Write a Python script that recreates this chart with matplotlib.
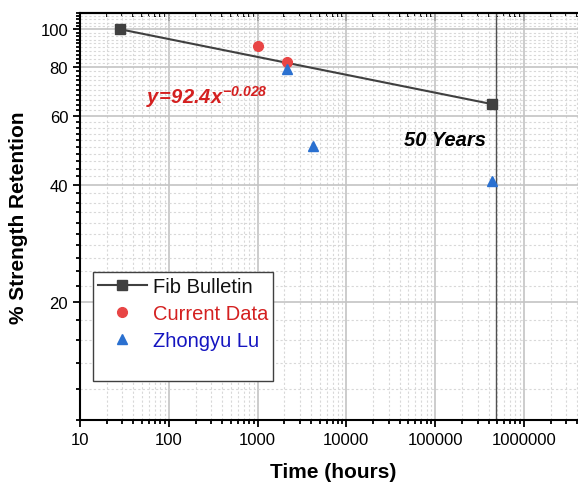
import numpy as np
import matplotlib
matplotlib.use("Agg")
import matplotlib.pyplot as plt
from matplotlib.ticker import FixedLocator, FuncFormatter, LogLocator, NullFormatter
from matplotlib.lines import Line2D

plt.rcParams['font.family'] = ['Liberation Sans', 'DejaVu Sans']
plt.rcParams['mathtext.fontset'] = 'custom'
plt.rcParams['mathtext.rm'] = 'Liberation Sans:bold:italic'
plt.rcParams['mathtext.it'] = 'Liberation Sans:bold:italic'
plt.rcParams['mathtext.bf'] = 'Liberation Sans:bold:italic'

# --- data ---
fib_time = [28, 438000]
fib_ret = [100, 64.3]
cur_time = [1000, 2150]
cur_ret = [90.5, 82.3]
lu_time = [2150, 4200, 438000]
lu_ret = [79.3, 50.1, 41.0]
year50_time = 4.9e5

y_major = [20, 40, 60, 80, 100]
y_minor = [v for v in range(10, 111, 2) if v not in y_major]

fig = plt.figure(figsize=(5.78, 4.89), dpi=100)
ax = fig.add_axes([80 / 578, 1 - 421 / 489, 506 / 578, 407 / 489])

ax.set_xscale('log')
ax.set_yscale('log')
ax.set_xlim(10, 5e6)
ax.set_ylim(10, 110)

# grid
ax.set_axisbelow(True)
ax.grid(which='major', color='#c4c4c4', linewidth=1.2, linestyle='-')
ax.grid(which='minor', color='#d8d8d8', linewidth=0.8, linestyle=(0, (2, 2)))

ax.axvline(year50_time, color='#505050', linewidth=1.0, zorder=2)

ax.plot(fib_time, fib_ret, color='#404040', linewidth=1.5, marker='s',
        markersize=6.5, label='Fib Bulletin', zorder=3)
ax.plot(cur_time, cur_ret, linestyle='none', marker='o', color='#e84545',
        markersize=7, label='Current Data', zorder=4)
ax.plot(lu_time, lu_ret, linestyle='none', marker='^', color='#2a70d0',
        markersize=7.5, label='Zhongyu Lu', zorder=5)

# ticks
ax.xaxis.set_major_locator(LogLocator(base=10, numticks=20))
ax.xaxis.set_minor_locator(LogLocator(base=10, subs=np.arange(2, 10), numticks=20))
ax.xaxis.set_major_formatter(FuncFormatter(lambda v, p: f'{v:.0f}'))
ax.xaxis.set_minor_formatter(NullFormatter())
ax.yaxis.set_major_locator(FixedLocator(y_major))
ax.yaxis.set_minor_locator(FixedLocator(y_minor))
ax.yaxis.set_major_formatter(FuncFormatter(lambda v, p: f'{v:.0f}'))
ax.yaxis.set_minor_formatter(NullFormatter())

ax.tick_params(which='both', direction='out', width=1.3, labelsize=12,
               top=False, right=False)
ax.tick_params(which='major', length=5)
ax.tick_params(which='minor', length=3)

top = ax.secondary_xaxis('top')
top.xaxis.set_major_locator(LogLocator(base=10, numticks=20))
top.xaxis.set_minor_locator(LogLocator(base=10, subs=np.arange(2, 10), numticks=20))
top.tick_params(which='both', direction='in', width=1.3, labeltop=False)
top.tick_params(which='major', length=6)
top.tick_params(which='minor', length=3)
top.spines['top'].set_linewidth(1.5)

for s in ['left', 'bottom', 'top']:
    ax.spines[s].set_linewidth(1.5)
ax.spines['right'].set_visible(False)

ax.set_xlabel('Time (hours)', fontsize=15, fontweight='bold', labelpad=11)
ax.set_ylabel('% Strength Retention', fontsize=15, fontweight='bold', labelpad=9)

ax.text(270, 67.4, r'$y\!=\!92.4x^{-0.028}$', color='#d42020', fontsize=14.5,
        ha='center', va='center')
ax.text(1.29e5, 52.3, '50 Years', fontsize=14.5, fontweight='bold',
        fontstyle='italic', ha='center', va='center')

handles, labels = ax.get_legend_handles_labels()
handles.append(Line2D([], [], linestyle='none'))
labels.append(' ')
leg = ax.legend(handles, labels, loc='upper left', bbox_to_anchor=(0.026, 0.363),
                borderaxespad=0, fontsize=14.5, frameon=True, fancybox=False,
                edgecolor='#404040', framealpha=1, handlelength=2.4,
                handletextpad=0.3, borderpad=0.25, labelspacing=0.38)
leg.get_frame().set_linewidth(1.0)
for txt, c in zip(leg.get_texts(), ['#111111', '#d42020', '#1515c0', 'black']):
    txt.set_color(c)

fig.savefig('out.png', dpi=100)
